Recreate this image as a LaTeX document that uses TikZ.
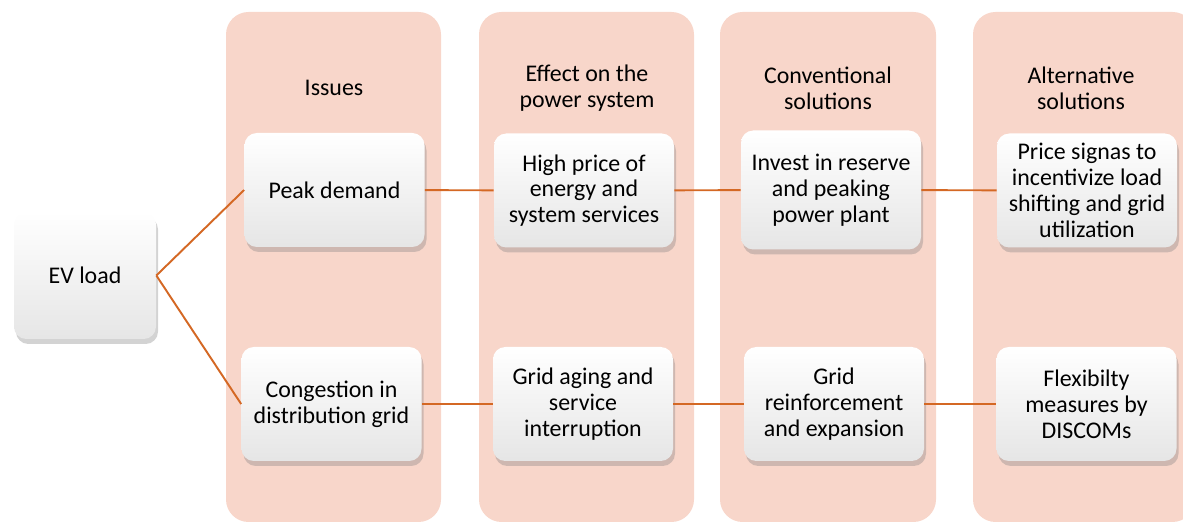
\documentclass[tikz,border=0pt]{standalone}
\usepackage{fontspec}
\setmainfont{Carlito}
\usepackage{tikz}
\usetikzlibrary{calc}
\usetikzlibrary{shadows}
\definecolor{lanepink}{RGB}{248,214,202}
\definecolor{linkorange}{RGB}{212,104,36}
\tikzset{stepstate/.style={shape=rectangle,rounded corners=7pt,align=center,inner sep=0,minimum width=3.6cm,minimum height=2.28cm,top color=white,middle color=white,bottom color=black!10,drop shadow={shadow xshift=0.4mm,shadow yshift=-1mm,opacity=0.35},font=\fontsize{13.6}{14.7}\selectfont}}
\tikzset{lanehead/.style={align=center,font=\fontsize{13.6}{14.7}\selectfont}}
\tikzset{link/.style={draw=linkorange,line width=1.1pt}}

\begin{document}
\begin{tikzpicture}
\useasboundingbox (0,0) rectangle (23.66,10.46);

	% lanes
	\fill[lanepink, rounded corners=0.45cm] (4.52,0.02) rectangle (8.82,10.22);
	\fill[lanepink, rounded corners=0.45cm] (9.58,0.02) rectangle (13.88,10.22);
	\fill[lanepink, rounded corners=0.45cm] (14.40,0.02) rectangle (18.72,10.22);
	\fill[lanepink, rounded corners=0.45cm] (19.46,0.02) rectangle (23.90,10.22);

\node[lanehead] (h1) at (6.68,8.70) {Issues};
\node[lanehead] (h2) at (11.74,8.70) {Effect on the\\power system};
\node[lanehead] (h3) at (16.56,8.70) {Conventional\\solutions};
\node[lanehead] (h4) at (21.62,8.70) {Alternative\\solutions};

\draw (1.70,4.95) node[stepstate,minimum width=2.84cm,minimum height=2.54cm] (ev) {EV load};

\draw (6.69,6.66) node[stepstate] (peak) {Peak demand};
\draw (6.63,2.38) node[stepstate] (cong) {Congestion in\\distribution grid};

\draw (11.68,6.65) node[stepstate] (price) {High price of\\energy and\\system services};
\draw (11.66,2.38) node[stepstate] (aging) {Grid aging and\\service\\interruption};

\draw (16.62,6.66) node[stepstate,minimum height=2.38cm] (invest) {Invest in reserve\\and peaking\\power plant};
\draw (16.68,2.38) node[stepstate] (reinf) {Grid\\reinforcement\\and expansion};

\draw (21.74,6.65) node[stepstate] (signal) {Price signas to\\incentivize load\\shifting and grid\\utilization};
\draw (21.73,2.38) node[stepstate] (flex) {Flexibilty\\measures by\\DISCOMs};

		\draw [link] (ev.east) to (peak.west);
		\draw [link] (ev.east) to (cong.west);

		\draw [link] (peak) to (price);
		\draw [link] (price) to (invest);
		\draw [link] (invest) to (signal);

		\draw [link] (cong) to (aging);
		\draw [link] (aging) to (reinf);
		\draw [link] (reinf) to (flex);

\end{tikzpicture}
\end{document}
